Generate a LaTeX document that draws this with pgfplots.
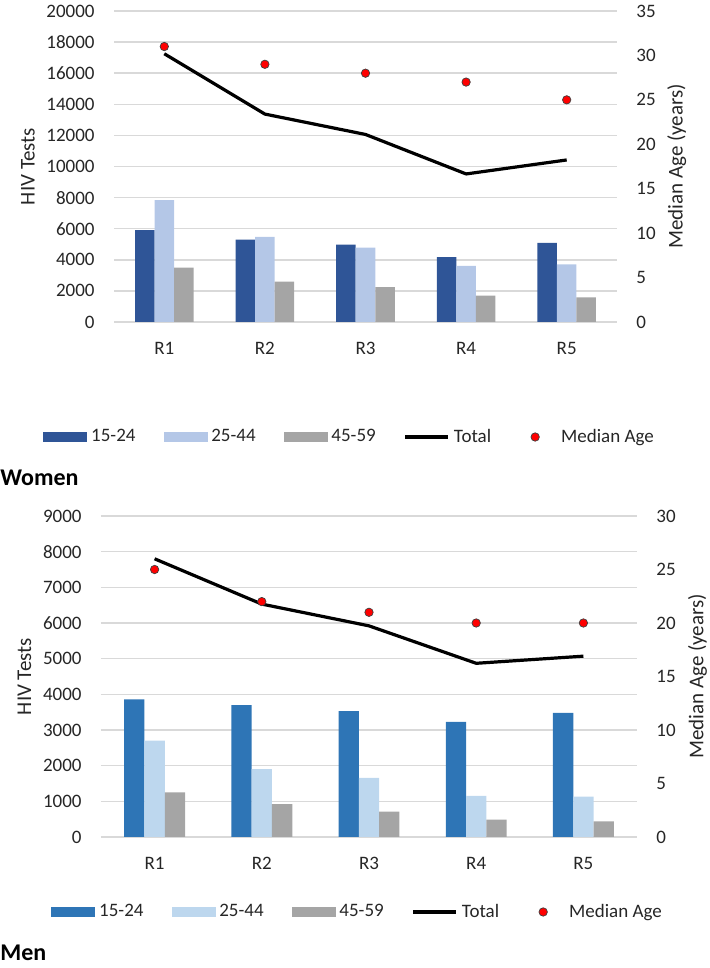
\documentclass[border=0pt]{standalone}
\usepackage{pgfplots}
\pgfplotsset{compat=1.18}
\usepackage{fontspec}
\setmainfont{Carlito}
\definecolor{wdark}{HTML}{2F5597}
\definecolor{wlight}{HTML}{B4C7E7}
\definecolor{mdark}{HTML}{2E75B6}
\definecolor{mlight}{HTML}{BDD7EE}
\definecolor{agegray}{HTML}{A5A5A5}
\definecolor{gridc}{HTML}{D9D9D9}
\definecolor{txt}{HTML}{262626}
\pgfplotsset{
  base/.style={
    scale only axis, xmin=-0.5, xmax=4.5, ymin=0, clip=false,
    axis line style={draw=none}, tick style={draw=none},
    scaled y ticks=false,
    ticklabel style={font=\fontsize{9.5}{11}\selectfont, text=txt, inner sep=0pt},
    label style={font=\fontsize{10.5}{12}\selectfont, text=txt},
    /pgf/number format/assume math mode=true,
    /pgf/number format/1000 sep={},
  },
  leftax/.style={base, ymajorgrids, grid style={color=gridc, line width=0.75pt},
    xtick={0,1,2,3,4}, xticklabels={R1,R2,R3,R4,R5},
    xticklabel style={yshift=-10pt},
    yticklabel style={xshift=-9.5pt},
    ylabel={HIV Tests}},
  rightax/.style={base, xtick=\empty, yticklabel pos=right,
    yticklabel style={xshift=9.5pt},
    ylabel={Median Age (years)},
    legend columns=5,
    legend style={draw=none, fill=none, inner sep=0pt, row sep=0pt,
      font=\fontsize{9.5}{11}\selectfont, text=txt, nodes={inner sep=0pt},
      /tikz/every odd column/.append style={column sep=2pt},
      /tikz/every even column/.append style={column sep=14pt}},
    legend cell align=left},
  totalline/.style={black, line width=1.6pt, line join=round},
  ageplot/.style={only marks, mark=*, mark size=2.1pt,
    mark options={fill=red, draw=black!75, line width=0.35pt},
    legend image code/.code={\path[draw=none, fill=none] (0pt,-2.25pt) rectangle (19pt,2.25pt);
      \draw[mark repeat=2, mark phase=2,##1] plot coordinates {(0pt,0pt) (8pt,0pt) (16pt,0pt)};}},
}
\begin{document}
\begin{tikzpicture}
\path[use as bounding box] (0pt,0pt) rectangle (354.5pt,484pt);

% ---------------- Women ----------------
\begin{axis}[leftax, at={(57pt,323pt)}, anchor=south west,
  width=251.5pt, height=155.5pt, ymax=20000, ytick distance=2000,
  ylabel style={at={(axis description cs:-0.171,0.5)}, anchor=center}]
\addplot[ybar, bar width=9.75pt, bar shift=-9.75pt, fill=wdark, draw=none]
  coordinates {(0,5900) (1,5300) (2,4980) (3,4170) (4,5090)};
\addplot[ybar, bar width=9.75pt, bar shift=0pt, fill=wlight, draw=none]
  coordinates {(0,7830) (1,5480) (2,4790) (3,3610) (4,3700)};
\addplot[ybar, bar width=9.75pt, bar shift=9.75pt, fill=agegray, draw=none]
  coordinates {(0,3490) (1,2590) (2,2250) (3,1690) (4,1580)};
\addplot[totalline]
  coordinates {(0,17250) (1,13370) (2,12060) (3,9520) (4,10420)};
\end{axis}
\begin{axis}[rightax, at={(57pt,323pt)}, anchor=south west,
  width=251.5pt, height=155.5pt, ymax=35, ytick distance=5,
  ylabel style={at={(axis description cs:1.119,0.5)}, anchor=center},
  legend style={at={(axis description cs:-0.1412,-0.3698)}, anchor=west}]
\addlegendimage{legend image code/.code={\fill[wdark] (0pt,-2.25pt) rectangle (21.5pt,2.25pt);}}
\addlegendentry{15-24}
\addlegendimage{legend image code/.code={\fill[wlight] (0pt,-2.25pt) rectangle (21.5pt,2.25pt);}}
\addlegendentry{25-44}
\addlegendimage{legend image code/.code={\fill[agegray] (0pt,-2.25pt) rectangle (21.5pt,2.25pt);}}
\addlegendentry{45-59}
\addlegendimage{legend image code/.code={\draw[black, line width=1.6pt] (0pt,0pt) -- (21.5pt,0pt);}}
\addlegendentry{Total}
\addplot[ageplot] coordinates {(0,31) (1,29) (2,28) (3,27) (4,25)};
\addlegendentry{Median Age}
\end{axis}
\node[anchor=west, inner sep=0pt, font=\fontsize{12}{14}\selectfont\bfseries, text=black] at (0pt,245pt) {Women};

% ---------------- Men ----------------
\begin{axis}[leftax, at={(50.5pt,65.5pt)}, anchor=south west,
  width=268pt, height=160.5pt, ymax=9000, ytick distance=1000,
  ylabel style={at={(axis description cs:-0.1427,0.5)}, anchor=center}]
\addplot[ybar, bar width=10.15pt, bar shift=-10.15pt, fill=mdark, draw=none]
  coordinates {(0,3860) (1,3700) (2,3530) (3,3230) (4,3480)};
\addplot[ybar, bar width=10.15pt, bar shift=0pt, fill=mlight, draw=none]
  coordinates {(0,2700) (1,1900) (2,1660) (3,1150) (4,1130)};
\addplot[ybar, bar width=10.15pt, bar shift=10.15pt, fill=agegray, draw=none]
  coordinates {(0,1250) (1,920) (2,710) (3,490) (4,440)};
\addplot[totalline]
  coordinates {(0,7800) (1,6530) (2,5920) (3,4870) (4,5070)};
\end{axis}
\begin{axis}[rightax, at={(50.5pt,65.5pt)}, anchor=south west,
  width=268pt, height=160.5pt, ymax=30, ytick distance=5,
  ylabel style={at={(axis description cs:1.113,0.5)}, anchor=center},
  legend style={at={(axis description cs:-0.0933,-0.2336)}, anchor=west}]
\addlegendimage{legend image code/.code={\fill[mdark] (0pt,-2.25pt) rectangle (21.5pt,2.25pt);}}
\addlegendentry{15-24}
\addlegendimage{legend image code/.code={\fill[mlight] (0pt,-2.25pt) rectangle (21.5pt,2.25pt);}}
\addlegendentry{25-44}
\addlegendimage{legend image code/.code={\fill[agegray] (0pt,-2.25pt) rectangle (21.5pt,2.25pt);}}
\addlegendentry{45-59}
\addlegendimage{legend image code/.code={\draw[black, line width=1.6pt] (0pt,0pt) -- (21.5pt,0pt);}}
\addlegendentry{Total}
\addplot[ageplot] coordinates {(0,25) (1,22) (2,21) (3,20) (4,20)};
\addlegendentry{Median Age}
\end{axis}
\node[anchor=west, inner sep=0pt, font=\fontsize{12}{14}\selectfont\bfseries, text=black] at (0pt,7.5pt) {Men};
\end{tikzpicture}
\end{document}
